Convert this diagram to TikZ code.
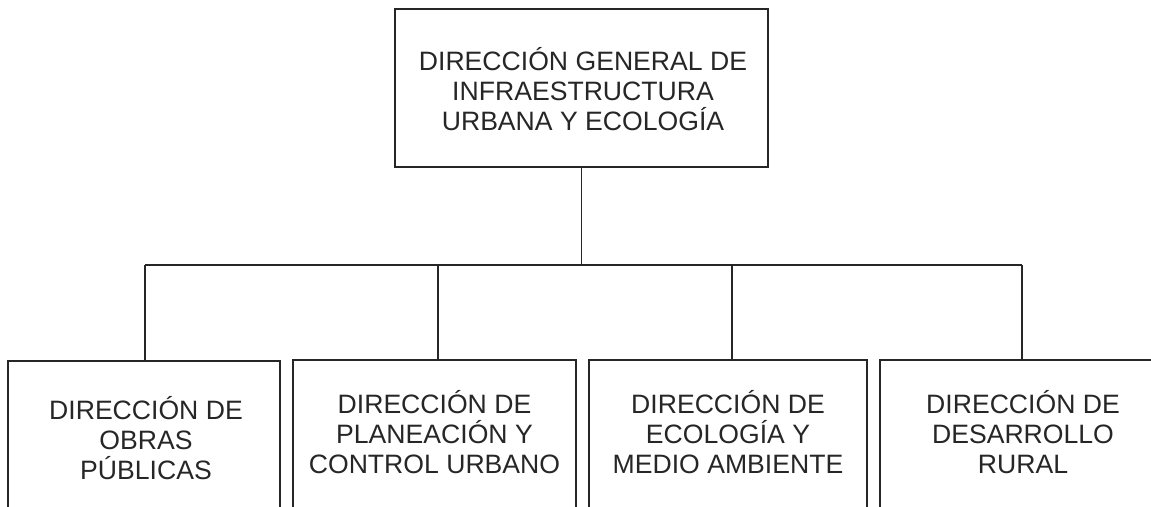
\documentclass[tikz,border=0pt]{standalone}
\usepackage{fontspec}
\setmainfont{Liberation Sans}
\begin{document}
\begin{tikzpicture}[x=1pt,y=-1pt,
  box/.style={draw=black!85, line width=2.4pt, inner sep=0pt},
  link/.style={draw=black!85, line width=1.3pt},
  lbl/.style={align=center, font=\fontsize{26.6}{30}\selectfont, text=black!85, inner sep=0pt}]
\useasboundingbox (0,0) rectangle (1151,506);
\node[box, minimum width=373pt, minimum height=158pt] (top) at (581.5,88) {};
\node[lbl] (toptxt) at (583,89) {DIRECCIÓN GENERAL DE\\INFRAESTRUCTURA\\URBANA Y ECOLOGÍA};
\node[box, minimum width=272pt, minimum height=180pt] (b1) at (144,451) {};
\node[box, minimum width=283pt, minimum height=180pt] (b2) at (434.5,450) {};
\node[box, minimum width=278pt, minimum height=180pt] (b3) at (728,450) {};
\node[box, minimum width=284pt, minimum height=180pt] (b4) at (1022,450) {};
\node[lbl] (t1) at (146,438) {DIRECCIÓN DE\\OBRAS\\PÚBLICAS};
\node[lbl] (t2) at (434.5,432) {DIRECCIÓN DE\\PLANEACIÓN Y\\CONTROL URBANO};
\node[lbl] (t3) at (728,432) {DIRECCIÓN DE\\ECOLOGÍA Y\\MEDIO AMBIENTE};
\node[lbl] (t4) at (1023,432) {DIRECCIÓN DE\\DESARROLLO\\RURAL};
\coordinate (j1) at (145,265);
\coordinate (j2) at (438,265);
\coordinate (j3) at (732,265);
\coordinate (j4) at (1022,265);
\draw[link] (top.south) -- (top.south |- j1);
\draw[link] (j1) -- (j4);
\draw[link] (j1) -- (j1 |- b1.north);
\draw[link] (j2) -- (j2 |- b2.north);
\draw[link] (j3) -- (j3 |- b3.north);
\draw[link] (j4) -- (j4 |- b4.north);
\end{tikzpicture}
\end{document}
